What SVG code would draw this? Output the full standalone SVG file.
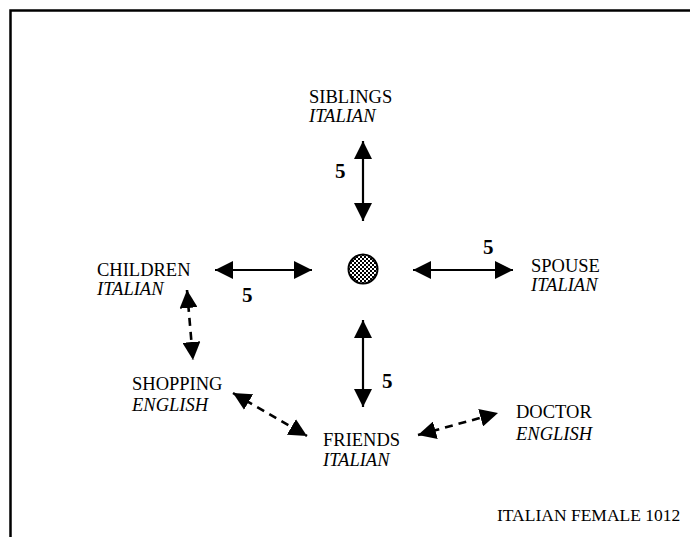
<svg xmlns="http://www.w3.org/2000/svg" width="690" height="537" viewBox="0 0 690 537">
  <style>
    .lbl { font-family: "Liberation Serif", "Times New Roman", serif; font-size: 18.5px; fill: #000; }
    .lang { font-style: italic; }
    .num { font-family: "Liberation Serif", "Times New Roman", serif; font-size: 21px; font-weight: bold; fill: #000; }
    .solid { stroke: #000; stroke-width: 2.2; fill: none; marker-start: url(#head); marker-end: url(#head); }
    .dash { stroke: #000; stroke-width: 2.6; stroke-dasharray: 8 6; fill: none; marker-start: url(#head); marker-end: url(#head); }
    .frame { stroke: #000; stroke-width: 2.5; fill: none; }
  </style>
  <defs>
    <marker id="head" markerUnits="userSpaceOnUse" markerWidth="18" markerHeight="18" viewBox="0 0 16 16" refX="16" refY="8" orient="auto-start-reverse">
      <path d="M0,0 L16,8 L0,16 Z" fill="#000"/>
    </marker>
    <pattern id="checks" patternUnits="userSpaceOnUse" width="4" height="4">
      <rect width="4" height="4" fill="#fff"/>
      <rect width="2" height="2" fill="#000"/>
      <rect x="2" y="2" width="2" height="2" fill="#000"/>
    </pattern>
  </defs>

  <rect width="690" height="537" fill="#fff"/>
  <path class="frame" d="M10.5,537 V10.5 H690"/>

  <g id="connectors">
    <line class="solid" x1="363" y1="141" x2="363" y2="221"/>
    <line class="solid" x1="215" y1="270" x2="312" y2="270"/>
    <line class="solid" x1="413" y1="270" x2="513" y2="270"/>
    <line class="solid" x1="363" y1="320" x2="363" y2="407"/>
    <line class="dash" x1="187" y1="290" x2="193" y2="360"/>
    <line class="dash" x1="233" y1="393" x2="307" y2="436"/>
    <line class="dash" x1="418" y1="435" x2="498" y2="413"/>
    <text class="num" x="335" y="178">5</text>
    <text class="num" x="242" y="302">5</text>
    <text class="num" x="483" y="254">5</text>
    <text class="num" x="382" y="388">5</text>
  </g>

  <g id="self">
    <circle cx="363" cy="269" r="14.5" fill="url(#checks)" stroke="#000" stroke-width="2"/>
  </g>

  <g id="siblings">
    <text class="lbl" x="309" y="103">SIBLINGS</text>
    <text class="lbl lang" x="309" y="122">ITALIAN</text>
  </g>
  <g id="children">
    <text class="lbl" x="97" y="276">CHILDREN</text>
    <text class="lbl lang" x="97" y="295">ITALIAN</text>
  </g>
  <g id="spouse">
    <text class="lbl" x="531" y="272">SPOUSE</text>
    <text class="lbl lang" x="531" y="291">ITALIAN</text>
  </g>
  <g id="shopping">
    <text class="lbl" x="132" y="390">SHOPPING</text>
    <text class="lbl lang" x="132" y="411">ENGLISH</text>
  </g>
  <g id="friends">
    <text class="lbl" x="323" y="446">FRIENDS</text>
    <text class="lbl lang" x="323" y="466">ITALIAN</text>
  </g>
  <g id="doctor">
    <text class="lbl" x="516" y="418">DOCTOR</text>
    <text class="lbl lang" x="516" y="440">ENGLISH</text>
  </g>

  <text class="lbl" x="497" y="521" style="font-size:17.5px">ITALIAN FEMALE 1012</text>
</svg>
